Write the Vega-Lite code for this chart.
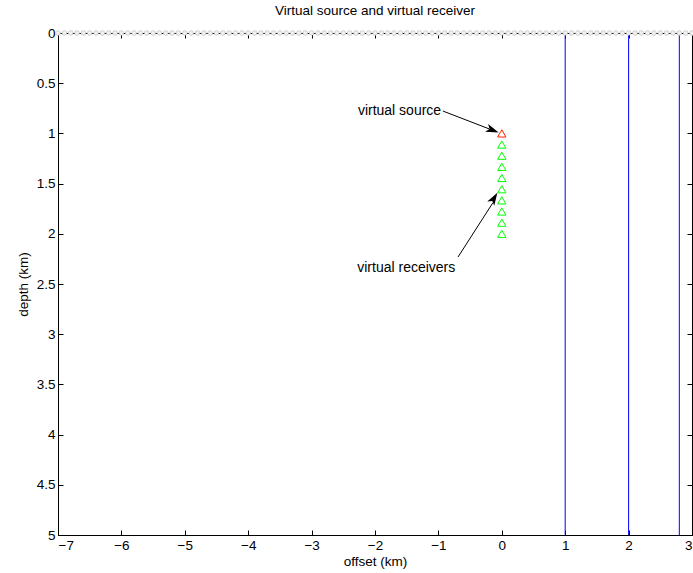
{
  "$schema": "https://vega.github.io/schema/vega-lite/v6.json",
  "autosize": {"type": "none"},
  "padding": {"left": 58, "top": 33, "right": 1, "bottom": 38},
  "width": 634,
  "height": 502,
  "background": "white",
  "config": {
    "font": "Liberation Sans",
    "view": {"stroke": "black", "strokeWidth": 1},
    "axis": {
      "grid": false,
      "domainColor": "black",
      "tickColor": "black",
      "labelColor": "black",
      "titleColor": "black",
      "labelFont": "Liberation Sans",
      "titleFont": "Liberation Sans",
      "labelFontSize": 13.5,
      "titleFontSize": 13.5,
      "titleFontWeight": "normal",
      "tickSize": -5,
      "labelPadding": 8
    }
  },
  "title": {"text": "Virtual source and virtual receiver", "fontSize": 13.5, "fontWeight": "normal", "font": "Liberation Sans", "color": "black", "offset": 9},
  "datasets": {
    "surface": [
      {"x": -7.0},{"x": -6.9},{"x": -6.8},{"x": -6.7},{"x": -6.6},{"x": -6.5},{"x": -6.4},{"x": -6.3},{"x": -6.2},{"x": -6.1},
      {"x": -6.0},{"x": -5.9},{"x": -5.8},{"x": -5.7},{"x": -5.6},{"x": -5.5},{"x": -5.4},{"x": -5.3},{"x": -5.2},{"x": -5.1},
      {"x": -5.0},{"x": -4.9},{"x": -4.8},{"x": -4.7},{"x": -4.6},{"x": -4.5},{"x": -4.4},{"x": -4.3},{"x": -4.2},{"x": -4.1},
      {"x": -4.0},{"x": -3.9},{"x": -3.8},{"x": -3.7},{"x": -3.6},{"x": -3.5},{"x": -3.4},{"x": -3.3},{"x": -3.2},{"x": -3.1},
      {"x": -3.0},{"x": -2.9},{"x": -2.8},{"x": -2.7},{"x": -2.6},{"x": -2.5},{"x": -2.4},{"x": -2.3},{"x": -2.2},{"x": -2.1},
      {"x": -2.0},{"x": -1.9},{"x": -1.8},{"x": -1.7},{"x": -1.6},{"x": -1.5},{"x": -1.4},{"x": -1.3},{"x": -1.2},{"x": -1.1},
      {"x": -1.0},{"x": -0.9},{"x": -0.8},{"x": -0.7},{"x": -0.6},{"x": -0.5},{"x": -0.4},{"x": -0.3},{"x": -0.2},{"x": -0.1},
      {"x": 0.0},{"x": 0.1},{"x": 0.2},{"x": 0.3},{"x": 0.4},{"x": 0.5},{"x": 0.6},{"x": 0.7},{"x": 0.8},{"x": 0.9},
      {"x": 1.0},{"x": 1.1},{"x": 1.2},{"x": 1.3},{"x": 1.4},{"x": 1.5},{"x": 1.6},{"x": 1.7},{"x": 1.8},{"x": 1.9},
      {"x": 2.0},{"x": 2.1},{"x": 2.2},{"x": 2.3},{"x": 2.4},{"x": 2.5},{"x": 2.6},{"x": 2.7},{"x": 2.8},{"x": 2.9},{"x": 3.0}
    ],
    "vlines": [
      {"x": 1.0, "line": "a"},
      {"x": 2.0, "line": "b"},
      {"x": 2.8, "line": "c"}
    ],
    "receivers": [
      {"x": 0, "depth": 1.111},{"x": 0, "depth": 1.222},{"x": 0, "depth": 1.333},
      {"x": 0, "depth": 1.444},{"x": 0, "depth": 1.556},{"x": 0, "depth": 1.667},
      {"x": 0, "depth": 1.778},{"x": 0, "depth": 1.889},{"x": 0, "depth": 2.0}
    ],
    "source": [{"x": 0, "depth": 1.0}],
    "arrow1": [{"x": -0.93, "depth": 0.777}, {"x": -0.2, "depth": 0.955}],
    "arrow2": [{"x": -0.69, "depth": 2.231}, {"x": -0.14, "depth": 1.69}],
    "head1": [{"x": -0.05, "depth": 0.99}],
    "head2": [{"x": -0.07, "depth": 1.59}],
    "labels": [
      {"x": -2.27, "depth": 0.777, "label": "virtual source"},
      {"x": -2.28, "depth": 2.34, "label": "virtual receivers"}
    ],
    "frame": [{"x": 0, "depth": 0}]
  },
  "layer": [
    {
      "layer": [
        {
          "data": {"name": "vlines"},
          "mark": {"type": "rule", "color": "#0000ff", "strokeWidth": 1},
          "encoding": {
            "x": {"field": "x", "type": "quantitative", "scale": {"domain": [-7, 3], "nice": false, "zero": false},
                  "axis": {"values": [-7,-6,-5,-4,-3,-2,-1,0,1,2,3], "title": "offset (km)", "titlePadding": 3, "labelExpr": "replace(toString(datum.value), '-', '\u2212')"}}
          }
        },
        {
          "data": {"name": "surface"},
          "mark": {"type": "point", "shape": "circle", "filled": false, "fill": "#f0f0f0", "fillOpacity": 1, "stroke": "#bdbdbd", "strokeWidth": 0.7, "size": 22, "opacity": 1},
          "encoding": {
            "x": {"field": "x", "type": "quantitative"},
            "y": {"datum": 0, "type": "quantitative", "scale": {"domain": [0, 5], "reverse": true, "nice": false, "zero": false},
                  "axis": {"values": [0,0.5,1,1.5,2,2.5,3,3.5,4,4.5,5], "title": "depth (km)", "titlePadding": 6, "labelExpr": "toString(datum.value)"}}
          }
        },
        {
          "data": {"name": "receivers"},
          "mark": {"type": "point", "shape": "triangle-up", "filled": false, "stroke": "#00ff00", "strokeWidth": 1, "size": 70, "opacity": 1},
          "encoding": {
            "x": {"field": "x", "type": "quantitative"},
            "y": {"field": "depth", "type": "quantitative"}
          }
        },
        {
          "data": {"name": "source"},
          "mark": {"type": "point", "shape": "triangle-up", "filled": false, "stroke": "#ff2000", "strokeWidth": 1, "size": 70, "opacity": 1},
          "encoding": {
            "x": {"field": "x", "type": "quantitative"},
            "y": {"field": "depth", "type": "quantitative"}
          }
        },
        {
          "data": {"name": "arrow1"},
          "mark": {"type": "line", "color": "black", "strokeWidth": 1},
          "encoding": {
            "x": {"field": "x", "type": "quantitative"},
            "y": {"field": "depth", "type": "quantitative"}
          }
        },
        {
          "data": {"name": "arrow2"},
          "mark": {"type": "line", "color": "black", "strokeWidth": 1},
          "encoding": {
            "x": {"field": "x", "type": "quantitative"},
            "y": {"field": "depth", "type": "quantitative"}
          }
        },
        {
          "data": {"name": "head1"},
          "mark": {"type": "point", "shape": "M0,0L-0.4,1.25L0,0.95L0.4,1.25Z", "filled": true, "color": "black", "size": 420, "angle": 111, "opacity": 1},
          "encoding": {
            "x": {"field": "x", "type": "quantitative"},
            "y": {"field": "depth", "type": "quantitative"}
          }
        },
        {
          "data": {"name": "head2"},
          "mark": {"type": "point", "shape": "M0,0L-0.4,1.25L0,0.95L0.4,1.25Z", "filled": true, "color": "black", "size": 420, "angle": 31, "opacity": 1},
          "encoding": {
            "x": {"field": "x", "type": "quantitative"},
            "y": {"field": "depth", "type": "quantitative"}
          }
        },
        {
          "data": {"name": "labels"},
          "mark": {"type": "text", "align": "left", "baseline": "middle", "fontSize": 14, "font": "Liberation Sans", "color": "black"},
          "encoding": {
            "x": {"field": "x", "type": "quantitative"},
            "y": {"field": "depth", "type": "quantitative"},
            "text": {"field": "label"}
          }
        }
      ]
    },
    {
      "data": {"name": "frame"},
      "mark": {"type": "point", "opacity": 0},
      "encoding": {
        "x": {"field": "x", "type": "quantitative", "scale": {"domain": [-7, 3], "nice": false, "zero": false},
              "axis": {"orient": "top", "values": [-7,-6,-5,-4,-3,-2,-1,0,1,2,3], "labels": false, "title": null, "domain": false}},
        "y": {"field": "depth", "type": "quantitative", "scale": {"domain": [0, 5], "reverse": true, "nice": false, "zero": false},
              "axis": {"orient": "right", "values": [0,0.5,1,1.5,2,2.5,3,3.5,4,4.5,5], "labels": false, "title": null, "domain": false}}
      }
    }
  ],
  "resolve": {"scale": {"x": "independent", "y": "independent"}}
}
